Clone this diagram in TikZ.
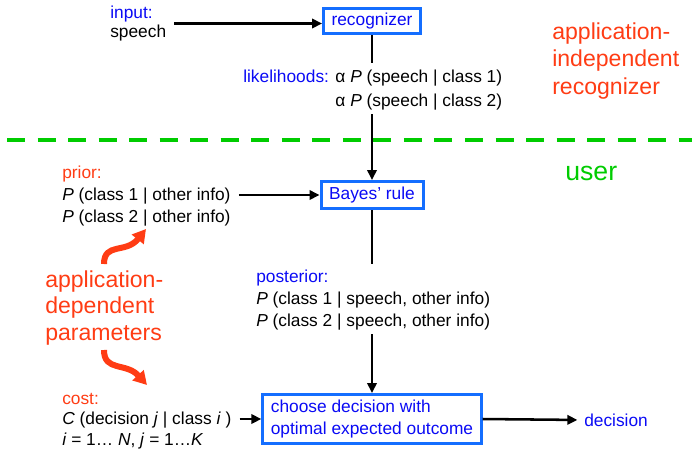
\documentclass[tikz,border=0pt]{standalone}
\usepackage{fontspec}
\setmainfont{Liberation Sans}
\usetikzlibrary{arrows.meta}
\definecolor{txtblue}{RGB}{10,10,245}
\definecolor{boxblue}{RGB}{20,110,255}
\definecolor{appred}{RGB}{255,60,20}
\definecolor{usergreen}{RGB}{0,204,0}
\begin{document}
\begin{tikzpicture}[x=0.75pt,y=-0.75pt,
  lbl/.style={font=\fontsize{13}{16.5}\selectfont, inner sep=0pt, anchor=west, align=left},
  box/.style={draw=boxblue, line width=2.25pt, fill=white, text=txtblue,
    font=\fontsize{13}{16.5}\selectfont, inner xsep=6pt, inner ysep=2pt, align=left},
  arr/.style={line width=1.9pt, -{Triangle[length=7.5pt,width=7pt]}},
  link/.style={line width=1.9pt},
  big/.style={font=\fontsize{17.3}{20}\selectfont, text=appred, inner sep=0pt, anchor=west, align=left},
  bendarr/.style={draw=appred, line width=4.5pt, -{Triangle[length=10pt,width=11pt]}}]
\useasboundingbox (0,0) rectangle (692,451);

% boundary between recognizer and user side
\draw[draw=usergreen, line width=3pt, dash pattern=on 13.5pt off 9.4pt] (7,140) -- (692,140);

% processing boxes
\node[box, minimum width=71.25pt, minimum height=18.75pt] (recog) at (372,21) {recognizer};
\node[box, minimum width=76.5pt, minimum height=20.25pt] (bayes) at (372,195) {Bayes’ rule};
\node[box, minimum width=163.5pt, minimum height=36.75pt] (choose) at (372,419)
  {choose decision with\\optimal expected outcome};

% labels
\node[lbl, font=\fontsize{13}{14.5}\selectfont] (input) at (110,23.5) {\textcolor{txtblue}{input:}\\speech};
\node[lbl, font=\fontsize{13}{18}\selectfont] (lik) at (243,90)
  {\begin{tabular}{@{}l@{ }l@{}}
   \textcolor{txtblue}{likelihoods:} & α \textit{P} (speech | class 1)\\
   & α \textit{P} (speech | class 2)
   \end{tabular}};
\node[lbl] (prior) at (62,196)
  {\textcolor{appred}{prior:}\\\textit{P} (class 1 | other info)\\\textit{P} (class 2 | other info)};
\node[lbl] (post) at (256,300)
  {\textcolor{txtblue}{posterior:}\\\textit{P} (class 1 | speech, other info)\\\textit{P} (class 2 | speech, other info)};
\node[lbl, font=\fontsize{13}{15.5}\selectfont] (cost) at (62,421)
  {\textcolor{appred}{cost:}\\\textit{C} (decision \textit{j} | class \textit{i} )\\\textit{i} = 1… \textit{N}, \textit{j} = 1…\textit{K}};
\node[lbl, text=txtblue] (out) at (584,420) {decision};

\node[big] (params) at (45,308) {application-\\dependent\\parameters};
\node[big, font=\fontsize{17.3}{20.6}\selectfont] (indep) at (552,61) {application-\\independent\\recognizer};
\node[lbl, text=usergreen, font=\fontsize{20}{24}\selectfont] (user) at (565,173) {user};

% signal flow
\draw[arr, shorten <=6pt] (input.east) -- (input.east -| recog.west);
\draw[link, shorten >=2pt] (recog.south) -- (recog.south |- lik.north);
\draw[arr] (recog.south |- lik.south) -- (bayes.north);
\draw[arr, shorten <=6pt] (prior.east |- bayes.west) -- (bayes.west);
\draw[link, shorten >=4pt] (bayes.south) -- (bayes.south |- post.north);
\draw[arr, shorten <=3pt] (bayes.south |- post.south) -- (choose.north);
\draw[arr, shorten <=6pt] (cost.east |- choose.west) -- (choose.west);
\draw[arr, shorten >=5pt] (choose.east) -- (out.west);

% parameters feed prior and cost
\coordinate (upS) at (104,264);
\coordinate (upE) at (146,229);
\coordinate (dnS) at (104,350);
\coordinate (dnE) at (147,385);
\draw[bendarr] (upS) .. controls (104,242) and (126,254) .. (upE);
\draw[bendarr] (dnS) .. controls (104,372) and (126,362) .. (dnE);
\end{tikzpicture}
\end{document}
